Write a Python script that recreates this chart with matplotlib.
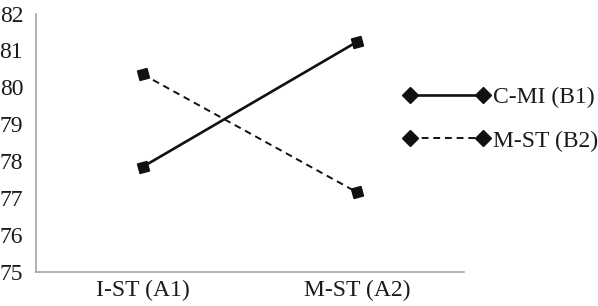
import matplotlib
matplotlib.use("Agg")
import matplotlib.pyplot as plt
from matplotlib.lines import Line2D

categories = ["I-ST (A1)", "M-ST (A2)"]
series_names = ["C-MI (B1)", "M-ST (B2)"]
b1_values = [77.84, 81.23]
b2_values = [80.35, 77.15]
y_ticks = [75, 76, 77, 78, 79, 80, 81, 82]

plt.rcParams['font.family'] = ['Liberation Serif', 'DejaVu Serif']

W, H = 598, 306
FS = 17
fig = plt.figure(figsize=(W / 100, H / 100), dpi=100)
ax = fig.add_axes([35.7 / W, 1 - 271.5 / H, (464 - 35.7) / W, (271.5 - 13.5) / H])

x = list(range(len(categories)))
txt = '#1a1a1a'
ax.plot(x, b1_values, color='#111111', lw=1.9, ls='-', marker=(4, 0, 60), ms=10,
        markerfacecolor='#111111', markeredgecolor='#111111', zorder=3)
ax.plot(x, b2_values, color='#111111', lw=1.4, ls=(0, (3.5, 2.5)), marker=(4, 0, 60), ms=10,
        markerfacecolor='#111111', markeredgecolor='#111111', zorder=3)

ax.set_xlim(-0.5, 1.5)
ax.set_ylim(75, 82)
ax.set_yticks(y_ticks)
ax.set_xticks(x)
ax.set_xticklabels(categories)
ax.tick_params(axis='both', length=0, labelsize=FS, colors=txt)
ax.tick_params(axis='y', pad=9)
ax.tick_params(axis='x', pad=6)
for s in ['top', 'right']:
    ax.spines[s].set_visible(False)
for s in ['left', 'bottom']:
    ax.spines[s].set_color('#a6a6a6')
    ax.spines[s].set_linewidth(1.2)

handles = [
    Line2D([], [], color='#111111', lw=1.9, ls='-', marker='D', ms=8.5),
    Line2D([], [], color='#111111', lw=1.4, ls=(0, (3.5, 2.5)), marker='D', ms=8.5),
]
fig.legend(handles, series_names, loc='center left', bbox_to_anchor=(403 / W, 1 - 119 / H),
           frameon=False, fontsize=FS, numpoints=2, handlelength=3.7, handletextpad=0.13,
           borderpad=0, borderaxespad=0, labelspacing=0.95, labelcolor=txt)

fig.savefig("out.png", dpi=100)
